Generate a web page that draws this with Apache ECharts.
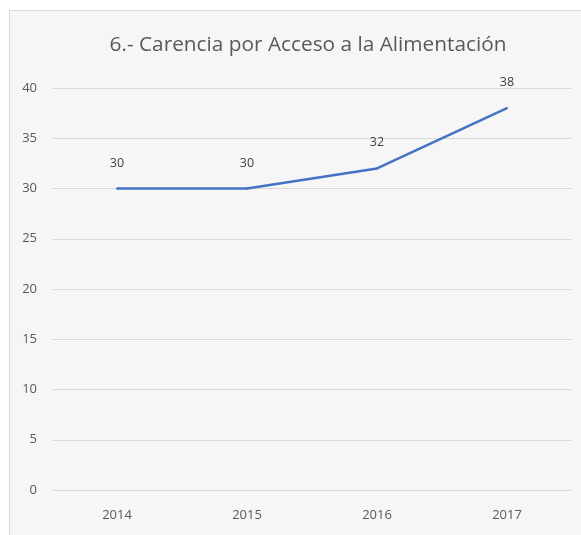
<!DOCTYPE html>
<html lang="es">
<head>
    <meta charset="UTF-8">
    <title>Carencia por Acceso a la Alimentación</title>
    <script src="https://cdn.jsdelivr.net/npm/echarts@6/dist/echarts.min.js"></script>
    <style>
        body { margin: 0; background: #ffffff; }
        #panel {
            position: absolute;
            left: 9px;
            top: 10px;
            width: 580px;
            height: 530px;
            background: #f6f6f6;
            border: 1px solid #d9d9d9;
        }
        #chart {
            position: absolute;
            left: 0;
            top: 0;
            width: 581px;
            height: 535px;
        }
    </style>
</head>
<body>
<div id="panel"></div>
<div id="chart"></div>

<script type="text/javascript">
    var years = ['2014', '2015', '2016', '2017'];
    var values = [30, 30, 32, 38];
    var yTicks = [0, 5, 10, 15, 20, 25, 30, 35, 40];

    var chart = echarts.init(document.getElementById('chart'));

    var option = {
        animation: false,
        title: {
            text: '6.- Carencia por Acceso a la Alimentación',
            left: 303,
            top: 30,
            textAlign: 'center',
            textStyle: {
                fontFamily: 'Open Sans',
                fontWeight: 'normal',
                fontSize: 20.8,
                color: '#595959'
            }
        },
        grid: {
            left: 52,
            right: 9,
            top: 88,
            bottom: 45
        },
        xAxis: {
            type: 'category',
            data: years,
            boundaryGap: true,
            axisLine: { show: false },
            axisTick: { show: false },
            axisLabel: {
                margin: 19,
                fontFamily: 'Open Sans',
                fontSize: 13,
                color: '#595959'
            }
        },
        yAxis: {
            type: 'value',
            min: yTicks[0],
            max: yTicks[yTicks.length - 1],
            interval: 5,
            axisLine: { show: false },
            axisTick: { show: false },
            axisLabel: {
                margin: 15,
                fontFamily: 'Open Sans',
                fontSize: 13,
                color: '#595959'
            },
            splitLine: { lineStyle: { color: '#d9d9d9', width: 1 } }
        },
        series: [{
            type: 'line',
            data: values,
            symbol: 'circle',
            symbolSize: 2,
            itemStyle: { color: '#4472c4' },
            lineStyle: { color: '#4472c4', width: 2.5 },
            label: {
                show: true,
                position: 'top',
                distance: 18,
                fontFamily: 'Open Sans',
                fontSize: 12.5,
                color: '#404040'
            }
        }]
    };

    chart.setOption(option);
</script>
</body>
</html>
